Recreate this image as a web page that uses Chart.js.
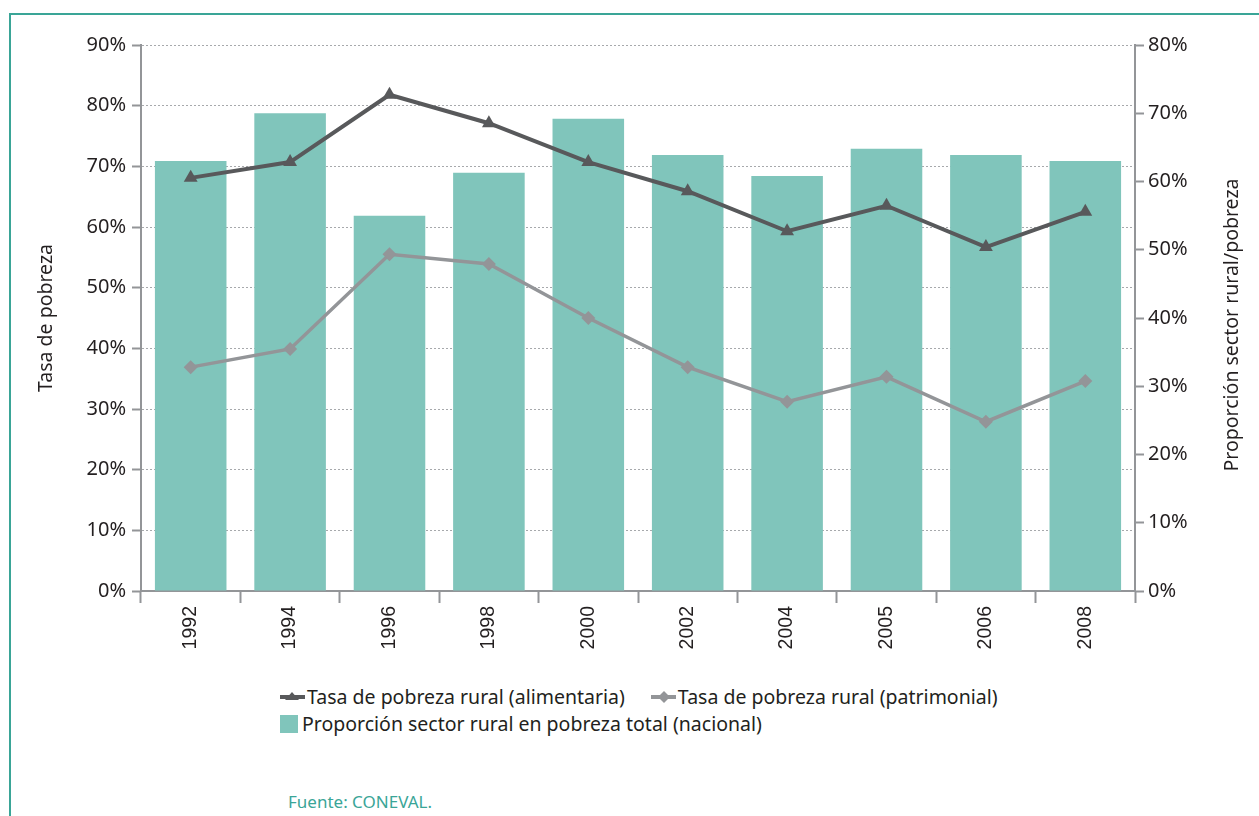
<!DOCTYPE html>
<html>
<head>
<meta charset="utf-8">
<script src="https://cdn.jsdelivr.net/npm/chart.js@4/dist/chart.umd.min.js"></script>
<style>
  body { margin: 0; background: #fff; width: 1259px; height: 816px; overflow: hidden; position: relative; font-family: "Noto Sans", sans-serif; }
  .frame { position: absolute; left: 9px; top: 13px; width: 1300px; height: 900px; border: 2px solid #3aa597; box-sizing: border-box; }
  .chart-box { position: absolute; left: 0; top: 0; width: 1259px; height: 680px; }
  #legend { position: absolute; left: 280px; top: 683px; width: 760px; font-size: 19.5px; color: #231f20; display: flex; flex-wrap: wrap; }
  .legend-item { display: flex; align-items: center; height: 27px; margin-right: 26px; white-space: nowrap; }
  .legend-item svg { margin-right: 2px; }
  .fuente { position: absolute; left: 288px; top: 790px; font-size: 17px; color: #3aa597; }
</style>
</head>
<body>
<div class="frame"></div>
<div class="chart-box"><canvas id="chart" width="1259" height="680"></canvas></div>
<div id="legend"></div>
<div class="fuente">Fuente: CONEVAL.</div>
<script>
const years = ['1992', '1994', '1996', '1998', '2000', '2002', '2004', '2005', '2006', '2008'];
const alimentaria = [68.1, 70.7, 81.8, 77.1, 70.7, 65.9, 59.3, 63.5, 56.7, 62.5];
const patrimonial = [36.9, 39.9, 55.5, 53.9, 45.0, 36.9, 31.2, 35.3, 27.9, 34.6];
const proporcionRural = [63.0, 70.0, 55.0, 61.3, 69.2, 63.9, 60.8, 64.8, 63.9, 63.0];

const darkGray = '#58595b';
const lightGray = '#939598';
const teal = '#80c5bb';
const axisGray = '#939598';
const tickFont = { family: '"Noto Sans", sans-serif', size: 20 };

// right axis title reads bottom to top, so draw it by hand
const rightTitlePlugin = {
  id: 'rightTitle',
  afterDraw(chart) {
    const ctx = chart.ctx;
    const area = chart.chartArea;
    ctx.save();
    ctx.translate(chart.scales.y1.right - 27, (area.top + area.bottom) / 2 + 7);
    ctx.rotate(-Math.PI / 2);
    ctx.fillStyle = '#231f20';
    ctx.font = '19.5px "Noto Sans", sans-serif';
    ctx.textAlign = 'center';
    ctx.textBaseline = 'middle';
    ctx.fillText('Proporción sector rural/pobreza', 0, 0);
    ctx.restore();
  }
};

const ctx = document.getElementById('chart').getContext('2d');
const chart = new Chart(ctx, {
  type: 'bar',
  data: {
    labels: years,
    datasets: [
      {
        type: 'line',
        label: 'Tasa de pobreza rural (alimentaria)',
        data: alimentaria,
        yAxisID: 'y',
        borderColor: darkGray,
        backgroundColor: darkGray,
        borderWidth: 4,
        pointStyle: 'triangle',
        pointRadius: 8,
        pointBorderWidth: 0,
        tension: 0,
        order: 1
      },
      {
        type: 'line',
        label: 'Tasa de pobreza rural (patrimonial)',
        data: patrimonial,
        yAxisID: 'y',
        borderColor: lightGray,
        backgroundColor: lightGray,
        borderWidth: 3.5,
        pointStyle: 'rectRot',
        pointRadius: 7,
        pointBorderWidth: 0,
        tension: 0,
        order: 2
      },
      {
        type: 'bar',
        label: 'Proporción sector rural en pobreza total (nacional)',
        data: proporcionRural,
        yAxisID: 'y1',
        backgroundColor: teal,
        categoryPercentage: 1,
        barPercentage: 0.72,
        order: 3
      }
    ]
  },
  options: {
    responsive: false,
    animation: false,
    layout: { padding: { top: 45, left: 0, right: 0, bottom: 0 } },
    plugins: {
      legend: { display: false },
      tooltip: { enabled: false }
    },
    scales: {
      x: {
        offset: true,
        grid: { offset: true, drawOnChartArea: false, tickLength: 12, tickColor: axisGray, tickWidth: 2 },
        border: { color: axisGray, width: 2 },
        ticks: { color: '#231f20', font: { family: '"Liberation Sans", Arial, sans-serif', size: 19.5 }, minRotation: 90, maxRotation: 90, padding: 3 },
        afterFit(scale) { scale.height = 89; }
      },
      y: {
        position: 'left',
        min: 0,
        max: 90,
        ticks: { stepSize: 10, color: '#231f20', font: tickFont, padding: 6, callback: v => v + '%' },
        grid: { color: '#a7a9ac', lineWidth: 1, tickBorderDash: [6, 0], tickColor: axisGray, tickWidth: 2, tickLength: 9 },
        border: { color: axisGray, width: 2, dash: [2, 2] },
        title: { display: true, text: 'Tasa de pobreza', color: '#231f20', font: { family: '"Noto Sans", sans-serif', size: 19.5 }, padding: { top: 35, bottom: 0 } },
        afterFit(scale) { scale.width = 141; }
      },
      y1: {
        position: 'right',
        min: 0,
        max: 80,
        ticks: { stepSize: 10, color: '#231f20', font: tickFont, padding: 4, callback: v => v + '%' },
        grid: { drawOnChartArea: false, tickColor: axisGray, tickWidth: 2, tickLength: 9 },
        border: { color: axisGray, width: 2 },
        afterFit(scale) { scale.width = 124; }
      }
    }
  },
  plugins: [rightTitlePlugin]
});

// html legend built from the chart datasets
function markerSvg(ds) {
  if (ds.type === 'bar') {
    return '<svg width="20" height="20"><rect x="0" y="1" width="18" height="18" fill="' + ds.backgroundColor + '"/></svg>';
  }
  let mark;
  if (ds.pointStyle === 'triangle') {
    mark = '<polygon points="12,5 19,13 5,13" fill="' + ds.borderColor + '"/>';
  } else {
    mark = '<polygon points="13,4 19,10 13,16 7,10" fill="' + ds.borderColor + '"/>';
  }
  return '<svg width="25" height="20"><line x1="0" y1="10" x2="25" y2="10" stroke="' + ds.borderColor + '" stroke-width="4"/>' + mark + '</svg>';
}
const legendDiv = document.getElementById('legend');
let legendHTML = '';
chart.data.datasets.forEach(ds => {
  legendHTML += '<div class="legend-item">' + markerSvg(ds) + '<span>' + ds.label + '</span></div>';
});
legendDiv.innerHTML = legendHTML;
</script>
</body>
</html>
